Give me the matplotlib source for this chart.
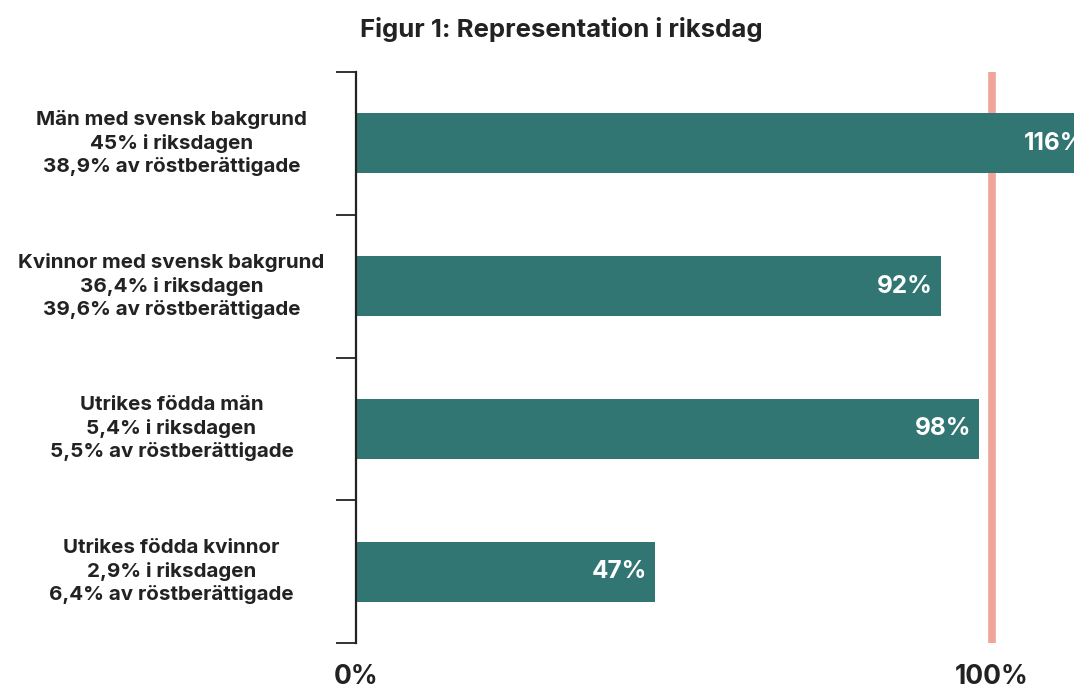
import matplotlib.pyplot as plt
import matplotlib.transforms as mtransforms

# data
groups = ["Män med svensk bakgrund", "Kvinnor med svensk bakgrund",
          "Utrikes födda män", "Utrikes födda kvinnor"]
riksdag = ["45%", "36,4%", "5,4%", "2,9%"]
rostber = ["38,9%", "39,6%", "5,5%", "6,4%"]
ratio = [116, 92, 98, 47]

plt.rcParams['font.family'] = ['Inter', 'DejaVu Sans']
dark = "#222222"

fig = plt.figure(figsize=(10.74, 6.89), dpi=100)
ax = fig.add_axes([356 / 1074, 1 - 643 / 689, 1 - 356 / 1074, (643 - 72) / 689])

ypos = list(range(len(groups)))
ax.barh(ypos, ratio, height=0.42, color="#317673", zorder=2)
ax.axvline(100, color="#f0a59a", lw=5.5, zorder=1)

for y, v in zip(ypos, ratio):
    ax.text(v - 1.3, y, f"{v}%", color="white", fontsize=17.5, fontweight="bold",
            ha="right", va="center", clip_on=True, zorder=3)

trans = mtransforms.blended_transform_factory(ax.transAxes, ax.transData)
for y, g, r, s in zip(ypos, groups, riksdag, rostber):
    ax.text(-0.257, y, f"{g}\n{r} i riksdagen\n{s} av röstberättigade",
            transform=trans, ha="center", va="center", fontsize=14.8,
            fontweight="bold", color=dark, linespacing=1.3)

ax.set_xlim(0, (1074 - 356) / 6.36)
ax.set_ylim(3.5, -0.5)

ax.set_yticks([-0.5, 0.5, 1.5, 2.5, 3.5])
ax.set_yticklabels([])
ax.tick_params(axis="y", length=14.5, width=1.3, color=dark)
ax.set_xticks([0, 100])
ax.set_xticklabels(["0%", "100%"], fontsize=19, fontweight="bold", color=dark)
ax.tick_params(axis="x", length=0, pad=15)

for side in ["top", "right", "bottom"]:
    ax.spines[side].set_visible(False)
ax.spines["left"].set_linewidth(1.6)
ax.spines["left"].set_color(dark)

fig.text(561 / 1074, 1 - 29 / 689, "Figur 1: Representation i riksdag",
         ha="center", va="center", fontsize=18.5, fontweight="bold", color=dark)

fig.savefig("out.png", dpi=100)
